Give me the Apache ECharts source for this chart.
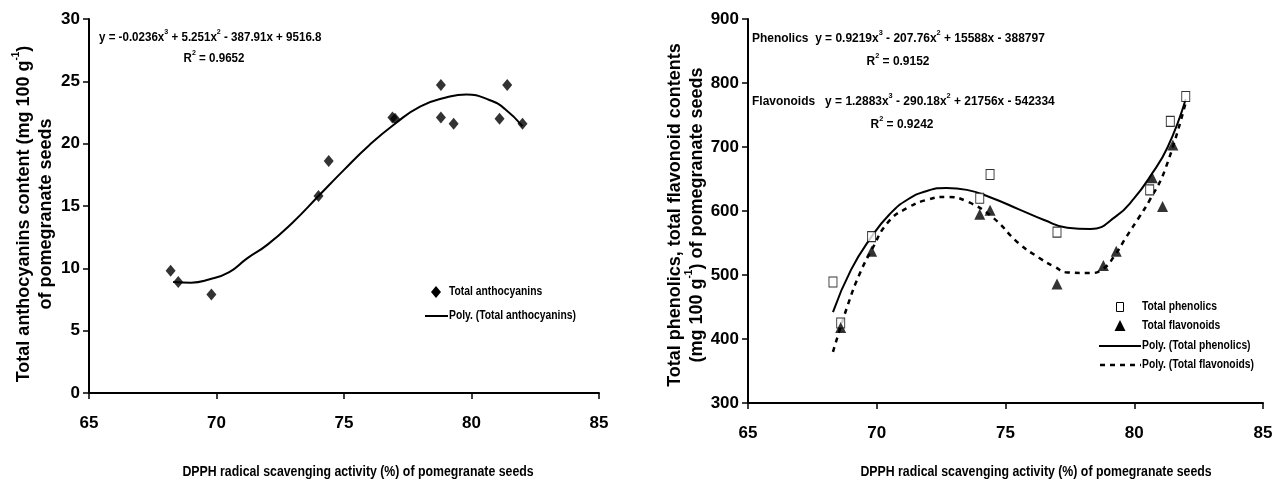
<!DOCTYPE html>
<html>
<head>
<meta charset="utf-8">
<script src="https://cdn.jsdelivr.net/npm/echarts@6/dist/echarts.min.js"></script>
<style>
html,body{margin:0;padding:0;background:#fff;}
#chart{width:1282px;height:485px;}
</style>
</head>
<body>
<div id="chart"></div>
<script>
// left chart: anthocyanins
var antX = [68.2, 68.5, 69.8, 74.0, 74.4, 76.9, 77.0, 78.8, 78.8, 79.3, 81.1, 81.4, 82.0];
var antY = [9.8, 8.9, 7.9, 15.8, 18.6, 22.1, 22.0, 24.7, 22.1, 21.6, 22.0, 24.7, 21.6];
var antFitX = [68.3, 69.0, 69.7, 70.5, 71.2, 72.0, 73.0, 74.0, 75.0, 76.0, 77.0, 78.0, 79.0, 79.8, 80.7, 81.3, 82.0];
var antFitY = [8.9, 8.85, 9.1, 9.7, 10.8, 11.9, 13.7, 15.8, 17.9, 19.9, 21.6, 23.0, 23.7, 23.95, 23.5, 22.8, 21.4];

// right chart: phenolics / flavonoids
var phenX = [68.3, 68.6, 69.8, 74.0, 74.4, 77.0, 80.6, 81.4, 82.0];
var phenY = [489, 425, 560, 620, 657, 567, 633, 740, 779];
var flavX = [68.6, 69.8, 74.0, 74.4, 77.0, 78.8, 79.3, 80.7, 81.1, 81.5];
var flavY = [418, 537, 595, 601, 486, 515, 537, 652, 607, 703];
var phenFitX = [68.3, 69.0, 69.8, 70.5, 71.2, 72.0, 72.7, 73.5, 74.5, 75.5, 76.5, 77.4, 78.3, 79.3, 80.0, 80.6, 81.3, 82.0];
var phenFitY = [442, 508, 560, 595, 618, 632, 636, 633, 620, 603, 586, 574, 572, 592, 620, 653, 700, 775];
var flavFitX = [68.3, 68.9, 69.35, 69.8, 70.45, 71.2, 72.0, 72.7, 73.5, 74.5, 75.5, 76.3, 76.9, 77.4, 78.3, 78.8, 79.2, 79.7, 80.2, 80.6, 81.2, 82.0];
var flavFitY = [380, 456, 503, 539, 583, 605, 618, 622, 615, 590, 550, 527, 513, 504, 503, 510, 528, 560, 591, 617, 665, 770];

var xTicks = [65, 85, 5];
var antTicks = [0, 30, 5];
var phenTicks = [300, 900, 100];

function pairs(xs, ys) {
	return xs.map(function (x, i) { return [x, ys[i]]; });
}

var ff = '"Liberation Sans", Arial, sans-serif';

var eqRich = {
	t: {fontFamily: ff, fontWeight: 'bold', fontSize: 13, color: '#000', lineHeight: 16, verticalAlign: 'bottom'},
	s: {fontFamily: ff, fontWeight: 'bold', fontSize: 8, color: '#000', lineHeight: 16, verticalAlign: 'top'}
};
var titleRich = {
	b: {fontFamily: ff, fontWeight: 'bold', fontSize: 18, color: '#000', lineHeight: 22, verticalAlign: 'bottom'},
	s: {fontFamily: ff, fontWeight: 'bold', fontSize: 10, color: '#000', lineHeight: 22, verticalAlign: 'top'}
};
var legFont = 'bold 12px ' + ff;

function xAxisCfg(gi) {
	return {
		gridIndex: gi,
		type: 'value',
		min: xTicks[0], max: xTicks[1], interval: xTicks[2],
		splitLine: {show: false},
		axisLine: {onZero: false, lineStyle: {color: '#000', width: 2}},
		axisTick: {inside: false, length: 6, lineStyle: {color: '#000', width: 1.5}},
		axisLabel: {margin: 22, color: '#000', fontFamily: ff, fontWeight: 'bold', fontSize: 17}
	};
}
function yAxisCfg(gi, t) {
	return {
		gridIndex: gi,
		type: 'value',
		min: t[0], max: t[1], interval: t[2],
		splitLine: {show: false},
		axisLine: {show: true, onZero: false, lineStyle: {color: '#000', width: 2}},
		axisTick: {show: true, inside: false, length: 6, lineStyle: {color: '#000', width: 1.5}},
		axisLabel: {margin: 9, color: '#000', fontFamily: ff, fontWeight: 'bold', fontSize: 17}
	};
}

function eq(x, y, text, align, sx) {
	return {type: 'text', x: x, y: y, scaleX: sx, style: {text: text, rich: eqRich, align: align, verticalAlign: 'middle'}};
}
function legText(x, y, text) {
	return {type: 'text', x: x, y: y, scaleX: 0.86, style: {text: text, font: legFont, fill: '#000', align: 'left', verticalAlign: 'middle'}};
}

var option = {
	animation: false,
	backgroundColor: '#fff',
	grid: [
		{left: 89, right: 683, top: 19, bottom: 92},
		{left: 748, right: 19, top: 19, bottom: 82}
	],
	xAxis: [xAxisCfg(0), xAxisCfg(1)],
	yAxis: [yAxisCfg(0, antTicks), yAxisCfg(1, phenTicks)],
	series: [
		{
			name: 'Total anthocyanins', type: 'scatter', xAxisIndex: 0, yAxisIndex: 0, z: 5,
			symbol: 'diamond', symbolSize: [10, 12],
			itemStyle: {color: '#000'},
			data: pairs(antX, antY)
		},
		{
			name: 'Poly. (Total anthocyanins)', type: 'line', xAxisIndex: 0, yAxisIndex: 0,
			smooth: true, showSymbol: false, symbol: 'none',
			lineStyle: {color: '#000', width: 2},
			data: pairs(antFitX, antFitY)
		},
		{
			name: 'Total phenolics', type: 'scatter', xAxisIndex: 1, yAxisIndex: 1, z: 5,
			symbol: 'rect', symbolSize: [8, 10],
			itemStyle: {color: '#fff', borderColor: '#000', borderWidth: 1},
			data: pairs(phenX, phenY)
		},
		{
			name: 'Total flavonoids', type: 'scatter', xAxisIndex: 1, yAxisIndex: 1, z: 5,
			symbol: 'triangle', symbolSize: [11, 11],
			itemStyle: {color: '#000'},
			data: pairs(flavX, flavY)
		},
		{
			name: 'Poly. (Total phenolics)', type: 'line', xAxisIndex: 1, yAxisIndex: 1,
			smooth: true, showSymbol: false, symbol: 'none',
			lineStyle: {color: '#000', width: 2},
			data: pairs(phenFitX, phenFitY)
		},
		{
			name: 'Poly. (Total flavonoids)', type: 'line', xAxisIndex: 1, yAxisIndex: 1,
			smooth: true, showSymbol: false, symbol: 'none',
			lineStyle: {color: '#000', width: 2.5, type: [5, 5]},
			data: pairs(flavFitX, flavFitY)
		}
	],
	graphic: [
		// trendline equations
		eq(99, 36, '{t|y = -0.0236x}{s|3}{t| + 5.251x}{s|2}{t| - 387.91x + 9516.8}', 'left', 0.89),
		eq(214, 57, '{t|R}{s|2}{t| = 0.9652}', 'center', 0.89),
		eq(752, 37, '{t|Phenolics  y = 0.9219x}{s|3}{t| - 207.76x}{s|2}{t| + 15588x - 388797}', 'left', 0.92),
		eq(898, 60, '{t|R}{s|2}{t| = 0.9152}', 'center', 0.92),
		eq(752, 100, '{t|Flavonoids   y = 1.2883x}{s|3}{t| - 290.18x}{s|2}{t| + 21756x - 542334}', 'left', 0.92),
		eq(902, 123, '{t|R}{s|2}{t| = 0.9242}', 'center', 0.92),

		// legend, left chart
		{type: 'polygon', shape: {points: [[436, 286], [441, 292], [436, 298], [431, 292]]}, style: {fill: '#000'}},
		legText(449, 292, 'Total anthocyanins'),
		{type: 'line', shape: {x1: 425, y1: 316, x2: 448, y2: 316}, style: {stroke: '#000', lineWidth: 2}},
		legText(449, 316, 'Poly. (Total anthocyanins)'),

		// legend, right chart
		{type: 'rect', shape: {x: 1116.5, y: 302.5, width: 7, height: 9}, style: {fill: '#fff', stroke: '#000', lineWidth: 1}},
		legText(1142, 307, 'Total phenolics'),
		{type: 'polygon', shape: {points: [[1120, 320], [1125.5, 331], [1114.5, 331]]}, style: {fill: '#000'}},
		legText(1142, 326, 'Total flavonoids'),
		{type: 'line', shape: {x1: 1099, y1: 346, x2: 1141, y2: 346}, style: {stroke: '#000', lineWidth: 2}},
		legText(1142, 346, 'Poly. (Total phenolics)'),
		{type: 'line', shape: {x1: 1100, y1: 365, x2: 1141, y2: 365}, style: {stroke: '#000', lineWidth: 2.5, lineDash: [5, 5]}},
		legText(1142, 365, 'Poly. (Total flavonoids)'),

		// axis titles
		{type: 'text', x: 33, y: 214, rotation: Math.PI / 2, style: {text: '{b|Total anthocyanins content (mg 100 g}{s|-1}{b|)}\n{b|of pomegranate seeds}', rich: titleRich, align: 'center', verticalAlign: 'middle'}},
		{type: 'text', x: 684, y: 215, rotation: Math.PI / 2, style: {text: '{b|Total phenolics, total flavonoid contents}\n{b|(mg 100 g}{s|-1}{b|) of pomegranate seeds}', rich: titleRich, align: 'center', verticalAlign: 'middle'}},
		{type: 'text', x: 358, y: 472, scaleX: 0.88, style: {text: 'DPPH radical scavenging activity (%) of pomegranate seeds', font: 'bold 14px ' + ff, fill: '#000', align: 'center', verticalAlign: 'middle'}},
		{type: 'text', x: 1036, y: 472, scaleX: 0.88, style: {text: 'DPPH radical scavenging activity (%) of pomegranate seeds', font: 'bold 14px ' + ff, fill: '#000', align: 'center', verticalAlign: 'middle'}}
	]
};

var myChart = echarts.init(document.getElementById('chart'));
myChart.setOption(option);
window.addEventListener('resize', function () {
	myChart.resize();
});
</script>
</body>
</html>
